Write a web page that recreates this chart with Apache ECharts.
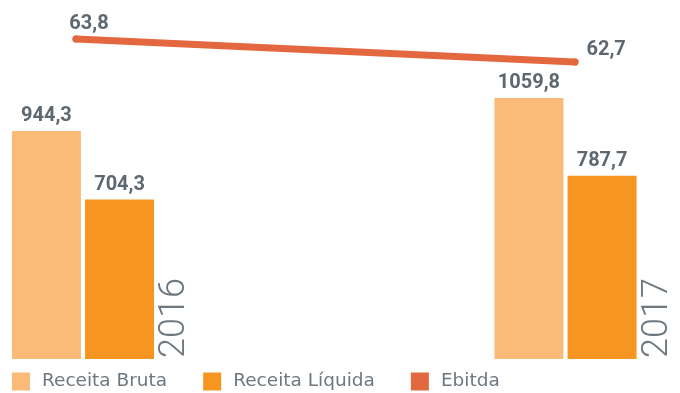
<!DOCTYPE html>
<html>
<head>
<meta charset="utf-8">
<script src="https://cdn.jsdelivr.net/npm/echarts@6/dist/echarts.min.js"></script>
<style>
   html, body { margin: 0; padding: 0; background: #fff; }
   #chart { width: 680px; height: 393px; }
</style>
</head>
<body>
<div id="chart"></div>
<script>
   // dados
   var years = ['2016', '2017'];
   var receitaBruta = [944.3, 1059.8];
   var receitaLiquida = [704.3, 787.7];
   var ebitda = [63.8, 62.7];

   var labelColor = '#5d6870';
   var textColor = '#6d7880';
   var yMin = 146;

   function fmt(v){
      return String(v).replace('.', ',');
   }

   var myChart = echarts.init(document.getElementById('chart'));
   var option = {
      animation: false,
      legend: {
         data: ['Receita Bruta', 'Receita Líquida', 'Ebitda'],
         icon: 'rect',
         left: 12,
         top: 372,
         padding: 0,
         itemWidth: 18,
         itemHeight: 18,
         itemGap: 36,
         textStyle: {
            fontFamily: 'DejaVu Sans',
            fontSize: 18.5,
            color: textColor,
            padding: [0, 0, 0, 7]
         }
      },
      grid: [
         // grade larga: os centros das categorias caem em 83 e 565.5
         {left: -158.25, right: -126.75, top: 20, bottom: 34, outerBoundsMode: 'none'},
         {left: 76, right: 105, top: 14, height: 104.5, outerBoundsMode: 'none'}
      ],
      xAxis: [
         {type: 'category', data: years, show: false, gridIndex: 0},
         {type: 'category', data: years, boundaryGap: false, show: false, gridIndex: 1}
      ],
      yAxis: [
         {type: 'value', min: yMin, max: 1333, show: false, gridIndex: 0},
         {type: 'value', min: 60, max: 65, show: false, gridIndex: 1}
      ],
      series: [
         {
            name: 'Receita Bruta',
            type: 'bar',
            data: receitaBruta,
            barWidth: 69,
            barGap: '6%',
            itemStyle: {color: '#fbbb78'},
            label: {
               show: true,
               position: 'top',
               distance: 5,
               fontFamily: 'Roboto',
               fontWeight: 'bold',
               fontSize: 20,
               color: labelColor,
               formatter: function(p){ return fmt(p.value); }
            }
         },
         {
            name: 'Receita Líquida',
            type: 'bar',
            data: receitaLiquida,
            barWidth: 69,
            barGap: '6%',
            itemStyle: {color: '#f6951f'},
            label: {
               show: true,
               position: 'top',
               distance: 5,
               fontFamily: 'Roboto',
               fontWeight: 'bold',
               fontSize: 20,
               color: labelColor,
               formatter: function(p){ return fmt(p.value); }
            }
         },
         {
            name: 'Ebitda',
            type: 'line',
            xAxisIndex: 1,
            yAxisIndex: 1,
            data: ebitda.map(function(v, i){
               return {
                  value: v,
                  label: i === 0 ? {position: 'top', offset: [13, 3]} : {position: 'right', offset: [3, -12]}
               };
            }),
            symbol: 'circle',
            symbolSize: 7,
            itemStyle: {color: '#e4683f'},
            lineStyle: {color: '#e4683f', width: 7, cap: 'round'},
            label: {
               show: true,
               fontFamily: 'Roboto',
               fontWeight: 'bold',
               fontSize: 20,
               color: labelColor,
               formatter: function(p){ return fmt(p.value); }
            }
         },
         {
            // rótulos dos anos, na vertical
            name: 'anos',
            type: 'custom',
            silent: true,
            data: years.map(function(y, i){ return [i, yMin]; }),
            renderItem: function(params, api){
               var p = api.coord([api.value(0), api.value(1)]);
               return {
                  type: 'text',
                  x: p[0] + 74,
                  y: p[1] - 1,
                  rotation: Math.PI / 2,
                  style: {
                     text: years[params.dataIndex],
                     fill: textColor,
                     font: '300 36px Roboto',
                     align: 'left',
                     verticalAlign: 'top'
                  }
               };
            }
         }
      ]
   };
   myChart.setOption(option);
</script>
</body>
</html>
